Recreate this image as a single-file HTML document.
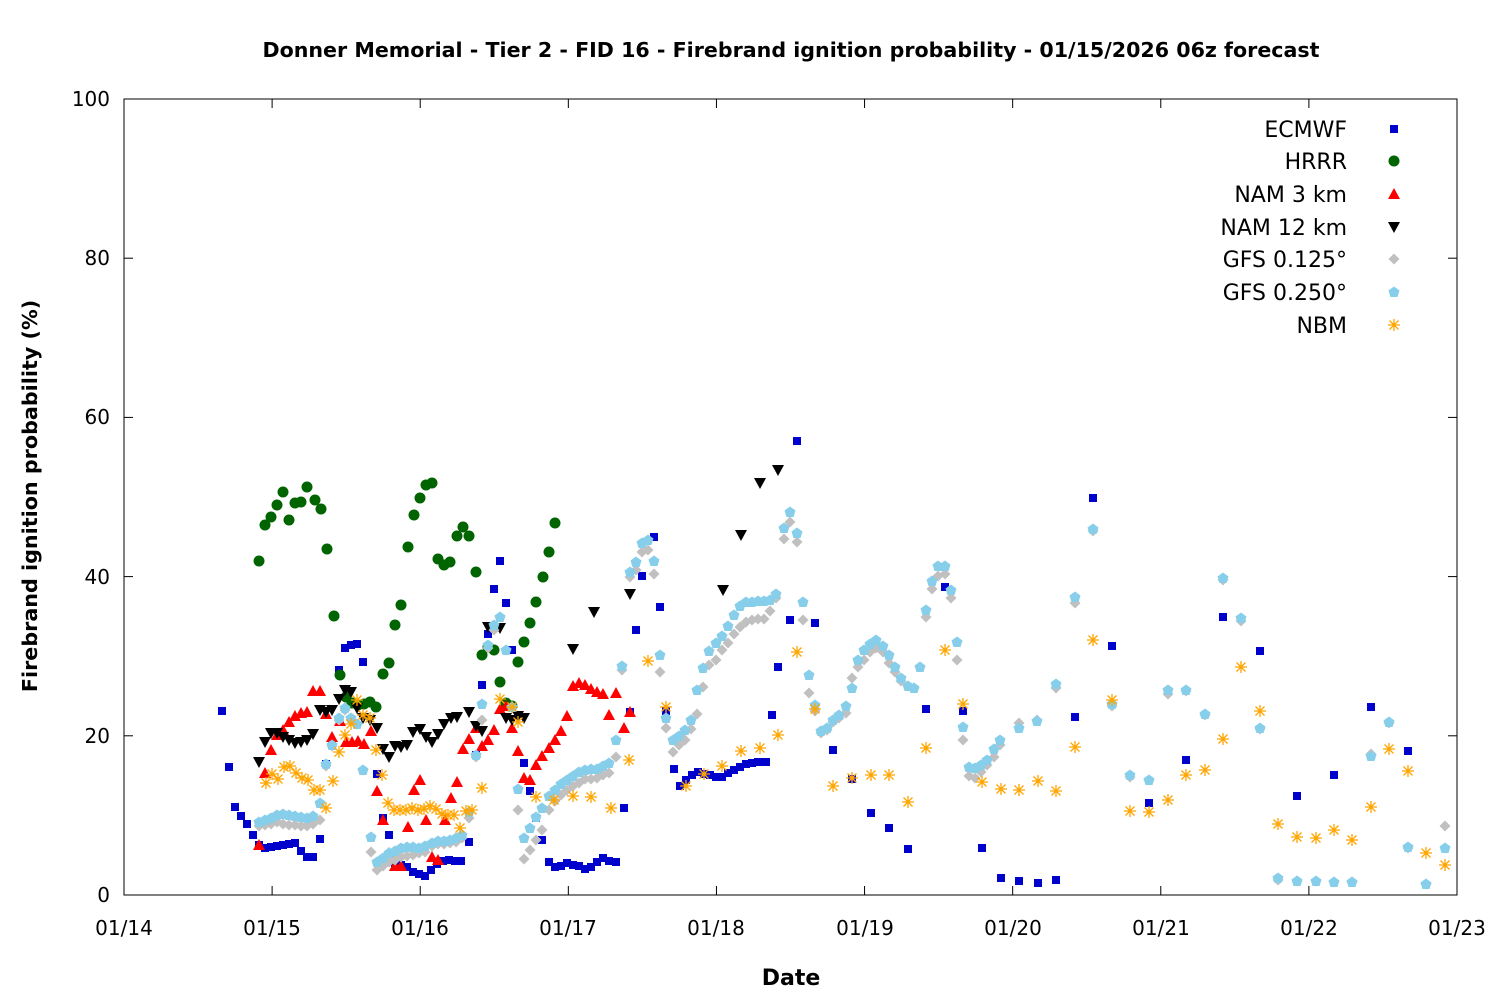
<!DOCTYPE html>
<html><head><meta charset="utf-8"><style>
html,body{margin:0;padding:0;background:#fff;}
svg{display:block;font-family:"DejaVu Sans","Liberation Sans",sans-serif;}
</style></head><body>
<svg id="s" width="1500" height="1000" xmlns="http://www.w3.org/2000/svg">
<rect width="1500" height="1000" fill="#fff"/>
<text x="791" y="57" text-anchor="middle" font-size="20.6" font-weight="bold">Donner Memorial - Tier 2 - FID 16 - Firebrand ignition probability - 01/15/2026 06z forecast</text>
<rect x="124" y="99" width="1333" height="796" fill="none" stroke="#000" stroke-width="1"/>
<g font-size="20" text-anchor="end">
<text x="110" y="902">0</text><text x="110" y="743">20</text><text x="110" y="584">40</text><text x="110" y="424">60</text><text x="110" y="265">80</text><text x="110" y="106">100</text>
</g>
<g font-size="20" text-anchor="middle">
<text x="124" y="935">01/14</text><text x="272" y="935">01/15</text><text x="420" y="935">01/16</text><text x="568" y="935">01/17</text><text x="716" y="935">01/18</text><text x="865" y="935">01/19</text><text x="1013" y="935">01/20</text><text x="1161" y="935">01/21</text><text x="1309" y="935">01/22</text><text x="1457" y="935">01/23</text>
</g>
<text x="791" y="985" text-anchor="middle" font-size="22" font-weight="bold">Date</text>
<text transform="translate(37,496) rotate(-90)" text-anchor="middle" font-size="20.7" font-weight="bold">Firebrand ignition probability (%)</text>
<g font-size="22" text-anchor="end">
<text x="1347" y="137">ECMWF</text><text x="1347" y="169">HRRR</text><text x="1347" y="202">NAM 3 km</text><text x="1347" y="235">NAM 12 km</text><text x="1347" y="267">GFS 0.125°</text><text x="1347" y="300">GFS 0.250°</text><text x="1347" y="333">NBM</text>
</g>
<g id="ticks" stroke="#000" stroke-width="1"></g>
<g id="pts"></g>
</svg>
<script>
var NS="http://www.w3.org/2000/svg",g=document.getElementById('pts'),tk=document.getElementById('ticks');
function el(t,a,p){var e=document.createElementNS(NS,t);for(var k in a)e.setAttribute(k,a[k]);(p||g).appendChild(e);return e;}
for(var i=0;i<=9;i++){var x=124+i*1333/9;el('line',{x1:x,y1:895,x2:x,y2:886},tk);el('line',{x1:x,y1:99,x2:x,y2:108},tk);}
for(var i=0;i<=5;i++){var y=895-i*159.2;el('line',{x1:124,y1:y,x2:133,y2:y},tk);el('line',{x1:1457,y1:y,x2:1448,y2:y},tk);}
function P(s){var a=s.match(/-?\d+/g).map(Number),r=[];for(var i=0;i<a.length;i+=2)r.push([a[i],a[i+1]]);return r;}
var M={
sq:function(x,y){el('rect',{x:x-4,y:y-4,width:8,height:8,fill:'#0000cc'});},
ci:function(x,y){el('circle',{cx:x,cy:y,r:5.5,fill:'#006400'});},
tu:function(x,y){el('polygon',{points:(x-6)+','+(y+5)+' '+(x+6)+','+(y+5)+' '+x+','+(y-6),fill:'#ff0000'});},
td:function(x,y){el('polygon',{points:(x-6)+','+(y-5)+' '+(x+6)+','+(y-5)+' '+x+','+(y+6),fill:'#000'});},
di:function(x,y){el('polygon',{points:x+','+(y-5.5)+' '+(x+5.5)+','+y+' '+x+','+(y+5.5)+' '+(x-5.5)+','+y,fill:'#c0c0c0'});},
pe:function(x,y){el('polygon',{points:x+','+(y-5.5)+' '+(x+5.5)+','+(y-1.5)+' '+(x+3.5)+','+(y+5)+' '+(x-3.5)+','+(y+5)+' '+(x-5.5)+','+(y-1.5),fill:'#87ceeb'});},
as:function(x,y){var d='M'+x+' '+(y-6)+'V'+(y+6)+'M'+(x-6)+' '+y+'H'+(x+6)+'M'+(x-4.5)+' '+(y-4.5)+'L'+(x+4.5)+' '+(y+4.5)+'M'+(x-4.5)+' '+(y+4.5)+'L'+(x+4.5)+' '+(y-4.5);el('path',{d:d,stroke:'#ffa500','stroke-width':1.3,fill:'none'});}
};
var S={
di:"(259,826),(265,825),(271,824),(277,822),(283,824),(289,825),(295,825),(301,826),(307,826),(313,824),(320,820),(326,766),(332,746),(339,720),(345,710),(351,720),(357,724),(363,770),(371,852),(377,870),(383,866),(389,862),(395,860),(401,857),(407,856),(413,855),(419,853),(425,852),(432,846),(438,844),(444,844),(450,843),(456,842),(462,838),(469,818),(476,757),(482,720),(488,648),(494,630),(500,617),(506,650),(512,707),(518,810),(524,859),(530,850),(536,840),(542,830),(549,810),(555,801),(561,795),(567,790),(573,786),(579,783),(585,779),(591,779),(597,778),(603,775),(609,773),(616,757),(622,670),(630,577),(636,570),(642,552),(648,550),(654,574),(660,672),(666,728),(673,752),(679,745),(685,740),(691,729),(697,714),(703,687),(709,665),(716,660),(722,650),(728,643),(734,634),(740,627),(746,622),(752,620),(758,619),(764,619),(770,611),(776,598),(784,539),(790,522),(797,542),(803,620),(809,693),(815,711),(821,733),(827,730),(833,722),(839,718),(846,713),(852,678),(858,667),(864,660),(870,652),(876,648),(883,652),(889,663),(895,672),(901,681),(908,686),(914,688),(920,667),(926,617),(932,589),(938,576),(945,574),(951,598),(957,660),(963,740),(969,776),(975,778),(981,772),(987,765),(994,757),(1000,745),(1019,723),(1037,720),(1056,688),(1075,603),(1093,531),(1112,706),(1130,777),(1149,780),(1168,694),(1186,691),(1205,715),(1223,580),(1241,621),(1260,729),(1278,880),(1297,881),(1316,881),(1334,882),(1352,882),(1371,754),(1389,723),(1408,848),(1426,884),(1445,826)",
pe:"(259,822),(265,820),(271,818),(277,815),(283,814),(289,815),(295,816),(301,817),(307,818),(313,816),(320,803),(326,764),(332,745),(339,718),(345,708),(351,718),(357,724),(363,770),(371,837),(377,862),(383,858),(389,853),(395,851),(401,848),(407,847),(413,847),(419,848),(425,846),(432,843),(438,841),(444,841),(450,840),(456,838),(462,835),(469,812),(476,755),(482,704),(488,645),(494,625),(500,617),(506,650),(512,707),(518,789),(524,838),(530,828),(536,817),(542,808),(549,796),(555,790),(561,784),(567,780),(573,776),(579,772),(585,770),(591,769),(597,769),(603,766),(609,763),(616,740),(622,666),(630,572),(636,562),(642,543),(648,540),(654,561),(660,655),(666,718),(673,740),(679,736),(685,730),(691,720),(697,690),(703,668),(709,651),(716,643),(722,636),(728,626),(734,615),(740,606),(746,602),(752,602),(758,601),(764,601),(770,600),(776,594),(784,528),(790,512),(797,533),(803,602),(809,675),(815,705),(821,731),(827,728),(833,720),(839,715),(846,706),(852,688),(858,660),(864,650),(870,644),(876,640),(883,646),(889,655),(895,667),(901,678),(908,686),(914,688),(920,667),(926,610),(932,581),(938,566),(945,566),(951,590),(957,642),(963,727),(969,767),(975,768),(981,765),(987,760),(994,749),(1000,740),(1019,728),(1037,721),(1056,684),(1075,597),(1093,529),(1112,704),(1130,775),(1149,780),(1168,690),(1186,690),(1205,714),(1223,578),(1241,618),(1260,728),(1278,878),(1297,881),(1316,881),(1334,882),(1352,882),(1371,756),(1389,722),(1408,847),(1426,884),(1445,848)",
tu:"(259,845),(265,773),(271,750),(277,735),(283,730),(289,722),(295,716),(301,713),(307,712),(313,691),(320,691),(326,714),(332,737),(340,721),(346,742),(352,742),(358,741),(364,744),(371,731),(377,791),(383,820),(389,853),(395,866),(401,866),(408,827),(414,790),(420,780),(426,820),(432,857),(438,860),(445,820),(451,798),(457,782),(463,749),(469,739),(476,728),(482,746),(488,740),(494,730),(500,709),(506,706),(512,728),(518,751),(524,778),(530,780),(536,765),(542,756),(549,748),(555,740),(561,731),(567,716),(573,686),(579,683),(585,685),(591,689),(597,692),(603,694),(609,715),(616,693),(624,728),(630,712)",
td:"(259,762),(265,742),(271,733),(277,733),(283,737),(289,740),(295,743),(301,742),(307,740),(313,734),(320,710),(326,712),(332,710),(339,699),(345,690),(351,692),(357,708),(363,718),(370,720),(377,728),(383,749),(389,757),(395,746),(401,747),(407,745),(413,732),(420,729),(426,737),(432,742),(438,734),(444,724),(451,718),(457,717),(469,712),(476,726),(482,731),(488,627),(500,628),(506,718),(512,720),(518,716),(524,718),(573,649),(594,612),(630,594),(723,590),(741,535),(760,483),(778,470)",
ci:"(259,561),(265,525),(271,517),(277,505),(283,492),(289,520),(295,503),(301,502),(307,487),(315,500),(321,509),(327,549),(334,616),(340,675),(346,697),(352,703),(358,705),(364,704),(370,702),(376,707),(383,674),(389,663),(395,625),(401,605),(408,547),(414,515),(420,498),(426,485),(432,483),(438,559),(444,565),(450,562),(457,536),(463,527),(469,536),(476,572),(482,655),(488,647),(494,650),(500,682),(506,703),(512,706),(518,662),(524,642),(530,623),(536,602),(543,577),(549,552),(555,523)",
as:"(266,783),(272,774),(278,779),(284,767),(290,766),(296,773),(302,778),(308,780),(314,790),(320,790),(326,808),(333,781),(339,752),(345,735),(351,724),(357,700),(363,715),(370,718),(376,750),(382,775),(388,803),(394,810),(400,810),(406,810),(412,808),(418,810),(424,809),(430,806),(436,809),(442,814),(448,815),(454,815),(460,828),(466,811),(472,810),(482,788),(500,699),(512,707),(518,722),(536,797),(554,800),(573,796),(591,797),(611,808),(629,760),(648,661),(666,707),(686,786),(704,774),(722,766),(741,751),(760,748),(778,735),(797,652),(815,709),(833,786),(852,778),(871,775),(889,775),(908,802),(926,748),(945,650),(963,704),(982,782),(1001,789),(1019,790),(1038,781),(1056,791),(1075,747),(1093,640),(1112,700),(1130,811),(1149,812),(1168,800),(1186,775),(1205,770),(1223,739),(1241,667),(1260,711),(1278,824),(1297,837),(1316,838),(1334,830),(1352,840),(1371,807),(1389,749),(1408,771),(1426,853),(1445,865)",
sq:"(222,711),(229,767),(235,807),(241,816),(247,824),(253,835),(259,845),(265,848),(271,847),(277,846),(283,845),(289,844),(295,843),(301,851),(307,857),(313,857),(320,839),(326,764),(332,745),(339,670),(345,648),(351,645),(357,644),(363,662),(377,774),(383,818),(389,835),(395,863),(401,865),(407,867),(413,872),(419,874),(425,876),(431,870),(437,864),(443,861),(449,860),(455,861),(461,861),(469,842),(476,755),(482,685),(488,634),(494,589),(500,561),(506,603),(512,650),(524,763),(530,791),(536,818),(542,840),(549,862),(555,867),(561,866),(567,863),(573,865),(579,866),(585,869),(591,867),(597,862),(603,858),(609,861),(616,862),(624,808),(630,712),(636,630),(642,576),(654,537),(660,607),(666,711),(674,769),(680,786),(686,780),(692,775),(698,772),(704,774),(710,775),(716,777),(722,777),(728,773),(734,770),(740,767),(746,764),(752,763),(758,762),(766,762),(772,715),(778,667),(790,620),(797,441),(815,623),(833,750),(852,779),(871,813),(889,828),(908,849),(926,709),(945,587),(963,711),(982,848),(1001,878),(1019,881),(1038,883),(1056,880),(1075,717),(1093,498),(1112,646),(1149,803),(1186,760),(1223,617),(1260,651),(1297,796),(1334,775),(1371,707),(1408,751)"
};
['sq','ci','tu','td','di','pe','as'].forEach(function(k){P(S[k]).forEach(function(p){M[k](p[0],p[1]);});});
var ly={sq:129,ci:161,tu:194,td:227,di:259,pe:292,as:325};
for(var k in ly)M[k](1394,ly[k]);
</script>
</body></html>
